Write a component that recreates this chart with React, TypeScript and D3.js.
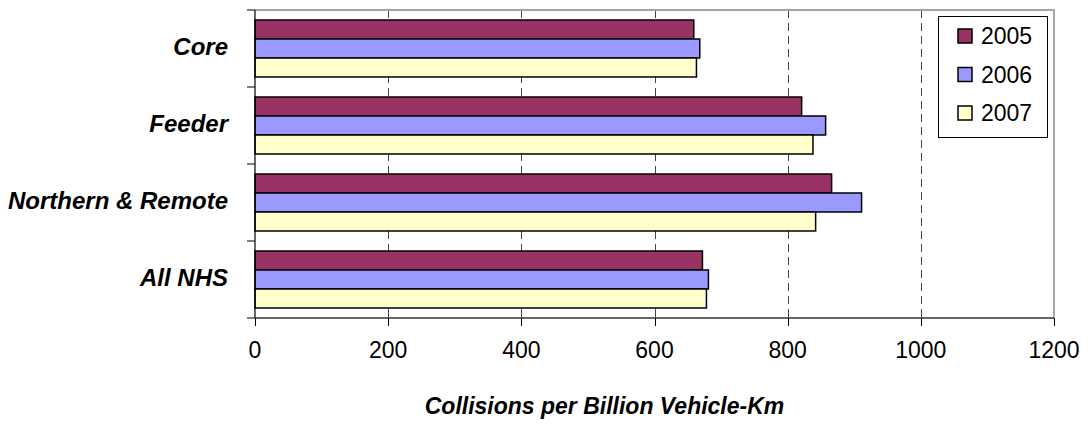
import React from "react";
import * as d3 from "d3";

const categories = ["Core", "Feeder", "Northern & Remote", "All NHS"];
const seriesNames = ["2005", "2006", "2007"];
const values2005 = [659, 821, 866, 672];
const values2006 = [668, 857, 911, 681];
const values2007 = [663, 838, 842, 678];
const xTicks = [0, 200, 400, 600, 800, 1000, 1200];
const colors = ["#993366", "#9999FF", "#FFFFCC"];
const axisTitle = "Collisions per Billion Vehicle-Km";

const W = 1088;
const H = 441;
const left = 255;
const right = 1054;
const top = 10;
const bottom = 318;
const FONT = "'Liberation Sans', Arial, sans-serif";

export default function App() {
  const series = [values2005, values2006, values2007];
  const x = d3.scaleLinear().domain([0, 1200]).range([left, right]);
  const y0 = d3.scaleBand<string>().domain(categories).range([top, bottom]).padding(0);
  const bw = y0.bandwidth();
  const y1 = d3
    .scaleBand<string>()
    .domain(seriesNames)
    .range([bw * 0.13, bw * 0.87])
    .padding(0);
  const boundaries = categories.map((c) => y0(c)!).concat([bottom]);

  return (
    <svg
      width={W}
      height={H}
      style={{ position: "absolute", left: 0, top: 0, background: "#fff" }}
      fontFamily={FONT}
    >
      {/* gridlines */}
      {xTicks
        .filter((t) => t > 0 && t < 1200)
        .map((t) => (
          <line
            key={"g" + t}
            x1={Math.round(x(t)) + 0.5}
            x2={Math.round(x(t)) + 0.5}
            y1={top}
            y2={bottom}
            stroke="#444"
            strokeWidth={1}
            strokeDasharray="8,5"
          />
        ))}
      {/* plot border top/right */}
      <path
        d={`M${left},${top}H${right}V${bottom}`}
        fill="none"
        stroke="#a6a6a6"
        strokeWidth={2}
      />
      {/* bars */}
      {categories.map((c, ci) => (
        <g key={c} transform={`translate(0,${y0(c)})`}>
          {seriesNames.map((s, si) => (
            <rect
              key={s}
              x={x(0)}
              y={y1(s)}
              width={x(series[si][ci]) - x(0)}
              height={y1.bandwidth()}
              fill={colors[si]}
              stroke="#000"
              strokeWidth={1.5}
            />
          ))}
        </g>
      ))}
      {/* axes */}
      <line x1={left} x2={left} y1={top} y2={bottom} stroke="#000" strokeWidth={1.2} />
      <line x1={left} x2={right} y1={bottom} y2={bottom} stroke="#333" strokeWidth={1.5} />
      {boundaries.map((b, i) => (
        <line key={"yt" + i} x1={left - 8} x2={left} y1={b} y2={b} stroke="#000" strokeWidth={1} />
      ))}
      {xTicks.map((t) => (
        <g key={"xt" + t}>
          <line
            x1={Math.round(x(t)) + 0.5}
            x2={Math.round(x(t)) + 0.5}
            y1={bottom}
            y2={bottom + 8}
            stroke="#000"
            strokeWidth={1}
          />
          <text x={x(t)} y={bottom + 40} textAnchor="middle" fontSize={23} fill="#000">
            {t}
          </text>
        </g>
      ))}
      {/* category labels */}
      {categories.map((c) => (
        <text
          key={"cl" + c}
          x={228}
          y={y0(c)! + bw / 2 + 6}
          textAnchor="end"
          fontSize={24}
          fontWeight="bold"
          fontStyle="italic"
          fill="#000"
        >
          {c}
        </text>
      ))}
      {/* axis title */}
      <text
        x={(left + right) / 2 - 50}
        y={414}
        textAnchor="middle"
        fontSize={23}
        fontWeight="bold"
        fontStyle="italic"
        fill="#000"
      >
        {axisTitle}
      </text>
      {/* legend */}
      <rect x={938.5} y={16.5} width={109} height={121} fill="#fff" stroke="#000" strokeWidth={1} />
      {seriesNames.map((s, i) => (
        <g key={"lg" + s} transform={`translate(0,${36 + i * 38.5})`}>
          <rect x={958} y={-7} width={14} height={14} fill={colors[i]} stroke="#000" strokeWidth={1.5} />
          <text x={981} y={8} fontSize={23} fill="#000">
            {s}
          </text>
        </g>
      ))}
    </svg>
  );
}
